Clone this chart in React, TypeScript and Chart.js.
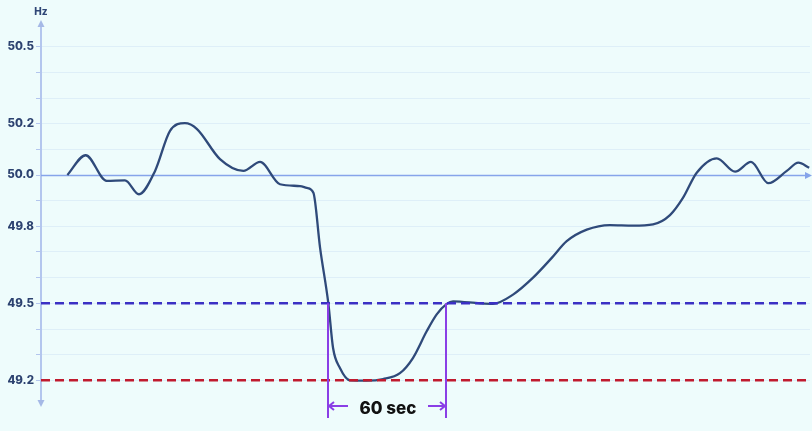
import React, { useEffect, useRef } from "react";
import { Chart, registerables } from "chart.js";

Chart.register(...registerables);

// Time (seconds) and grid frequency (Hz)
const timeSec = [13.4, 22.7, 33.4, 42.7, 49.8, 58.0, 65.6, 73.2, 79.2, 91.0, 102.9, 111.4, 121.5, 131.7, 135.1, 138.5, 141.9, 146.1, 148.5, 152.0, 157.1, 165.6, 173.9, 182.5, 189.1, 196.1, 201.2, 206.3, 209.5, 223.2, 229.8, 240.0, 250.2, 259.7, 267.3, 277.5, 289.3, 301.0, 311.2, 319.8, 326.4, 333.4, 343.6, 352.9, 361.0, 369.8, 379.2, 385.1, 390.6];
const freqHz = [50.0, 50.077, 49.977, 49.979, 49.925, 50.016, 50.172, 50.202, 50.18, 50.062, 50.016, 50.051, 49.964, 49.957, 49.95, 49.931, 49.716, 49.5, 49.326, 49.248, 49.2, 49.199, 49.205, 49.228, 49.287, 49.391, 49.457, 49.498, 49.508, 49.5, 49.498, 49.534, 49.6, 49.677, 49.742, 49.787, 49.805, 49.803, 49.808, 49.844, 49.911, 50.009, 50.065, 50.013, 50.051, 49.968, 50.016, 50.048, 50.028];

const yTickValues = [49.2, 49.3, 49.4, 49.5, 49.6, 49.7, 49.8, 49.9, 50.0, 50.1, 50.2, 50.3, 50.4, 50.5];
const yLabelled = [49.2, 49.5, 49.8, 50.0, 50.2, 50.5];
const yMin = 49.1;
const yMax = 50.6;
const xMin = 0;
const xMax = 391;

const nominalHz = 50.0;
const upperThreshold = 49.5;
const lowerThreshold = 49.2;
const markerStart = 146.1;
const markerEnd = 206.1;
const markerLabel = "60 sec";
const unitLabel = "Hz";

export default function App() {
  const ref = useRef<HTMLCanvasElement | null>(null);

  useEffect(() => {
    if (!ref.current) return;
    const AXIS = "#b3c6ee";
    const overlay = {
      id: "overlay",
      beforeDatasetsDraw(chart: any) {
        const ctx = chart.ctx;
        const { left, right, top, bottom } = chart.chartArea;
        const ys = chart.scales.y;
        ctx.save();
        // y axis line with arrows
        ctx.strokeStyle = AXIS;
        ctx.lineWidth = 2;
        ctx.beginPath();
        ctx.moveTo(left, top + 2);
        ctx.lineTo(left, bottom - 2);
        ctx.stroke();
        ctx.fillStyle = "#a5b9e6";
        ctx.beginPath();
        ctx.moveTo(left, top - 1);
        ctx.lineTo(left - 3.5, top + 6);
        ctx.lineTo(left + 3.5, top + 6);
        ctx.closePath();
        ctx.fill();
        ctx.beginPath();
        ctx.moveTo(left, bottom + 1);
        ctx.lineTo(left - 3.5, bottom - 6);
        ctx.lineTo(left + 3.5, bottom - 6);
        ctx.closePath();
        ctx.fill();
        // baseline at nominal with arrow
        const y50 = Math.round(ys.getPixelForValue(nominalHz)) + 0.5;
        ctx.strokeStyle = "#86a4ea";
        ctx.lineWidth = 1.5;
        ctx.beginPath();
        ctx.moveTo(left, y50);
        ctx.lineTo(right - 2, y50);
        ctx.stroke();
        ctx.fillStyle = "#86a4ea";
        ctx.beginPath();
        ctx.moveTo(right + 2, y50);
        ctx.lineTo(right - 5, y50 - 3.5);
        ctx.lineTo(right - 5, y50 + 3.5);
        ctx.closePath();
        ctx.fill();
        // unit label
        ctx.fillStyle = "#2f4676";
        ctx.font = "800 10px Inter, 'Open Sans', sans-serif";
        ctx.textAlign = "center";
        ctx.textBaseline = "middle";
        ctx.fillText(unitLabel, left, 12);
        ctx.restore();
      },
      afterDatasetsDraw(chart: any) {
        const ctx = chart.ctx;
        const { bottom } = chart.chartArea;
        const xs = chart.scales.x;
        const ys = chart.scales.y;
        const x1 = Math.round(xs.getPixelForValue(markerStart));
        const x2 = Math.round(xs.getPixelForValue(markerEnd));
        const yTop = ys.getPixelForValue(upperThreshold);
        const yBot = bottom + 12;
        const yArrow = bottom;
        ctx.save();
        ctx.strokeStyle = "#8a3ee6";
        ctx.lineWidth = 2;
        ctx.beginPath();
        ctx.moveTo(x1, yTop);
        ctx.lineTo(x1, yBot);
        ctx.moveTo(x2, yTop);
        ctx.lineTo(x2, yBot);
        // left arrow
        ctx.moveTo(x1 + 1, yArrow);
        ctx.lineTo(x1 + 20, yArrow);
        ctx.moveTo(x1 + 6, yArrow - 4);
        ctx.lineTo(x1 + 1, yArrow);
        ctx.lineTo(x1 + 6, yArrow + 4);
        // right arrow
        ctx.moveTo(x2 - 1, yArrow);
        ctx.lineTo(x2 - 18, yArrow);
        ctx.moveTo(x2 - 6, yArrow - 4);
        ctx.lineTo(x2 - 1, yArrow);
        ctx.lineTo(x2 - 6, yArrow + 4);
        ctx.stroke();
        ctx.fillStyle = "#111111";
        ctx.font = "800 17px Inter, 'Open Sans', sans-serif";
        ctx.textAlign = "center";
        ctx.textBaseline = "middle";
        ctx.fillText(markerLabel, (x1 + x2) / 2 + 1, yArrow + 3);
        ctx.restore();
      },
    };

    const line = (v: number) => [
      { x: xMin, y: v },
      { x: xMax, y: v },
    ];

    const chart = new Chart(ref.current, {
      type: "line",
      data: {
        datasets: [
          {
            data: line(upperThreshold),
            borderColor: "#3b30c4",
            borderWidth: 2.5,
            borderDash: [9, 5],
            pointRadius: 0,
          },
          {
            data: line(lowerThreshold),
            borderColor: "#c01a2e",
            borderWidth: 2.5,
            borderDash: [9, 5],
            pointRadius: 0,
          },
          {
            data: timeSec.map((t, i) => ({ x: t, y: freqHz[i] })),
            borderColor: "#2f4a7a",
            borderWidth: 2.3,
            pointRadius: 0,
            cubicInterpolationMode: "monotone",
          },
        ],
      },
      options: {
        animation: false,
        responsive: true,
        maintainAspectRatio: false,
        layout: { padding: { left: 0, right: 2, top: 21, bottom: 25 } },
        plugins: { legend: { display: false }, tooltip: { enabled: false } },
        scales: {
          x: { type: "linear", min: xMin, max: xMax, display: false },
          y: {
            type: "linear",
            min: yMin,
            max: yMax,
            afterBuildTicks: (scale: any) => {
              scale.ticks = yTickValues.map((v) => ({ value: v }));
            },
            afterFit: (scale: any) => {
              scale.width = 41;
            },
            border: { display: false },
            grid: {
              color: "rgba(170,195,235,0.22)",
              tickColor: "#b3c6ee",
              tickLength: 5,
              lineWidth: 1,
            },
            ticks: {
              padding: 2,
              color: "#2c4270",
              font: { family: "Inter, 'Open Sans', sans-serif", size: 11.5, weight: "800" },
              callback: (v: any) => {
                const n = Number(v);
                return yLabelled.some((l) => Math.abs(l - n) < 1e-6) ? n.toFixed(1) : "";
              },
            },
          },
        },
      },
      plugins: [overlay],
    } as any);
    return () => chart.destroy();
  }, []);

  return (
    <div
      style={{
        position: "fixed",
        left: 0,
        top: 0,
        width: 812,
        height: 431,
        background: "#eefcfc",
      }}
    >
      <canvas ref={ref} />
    </div>
  );
}
